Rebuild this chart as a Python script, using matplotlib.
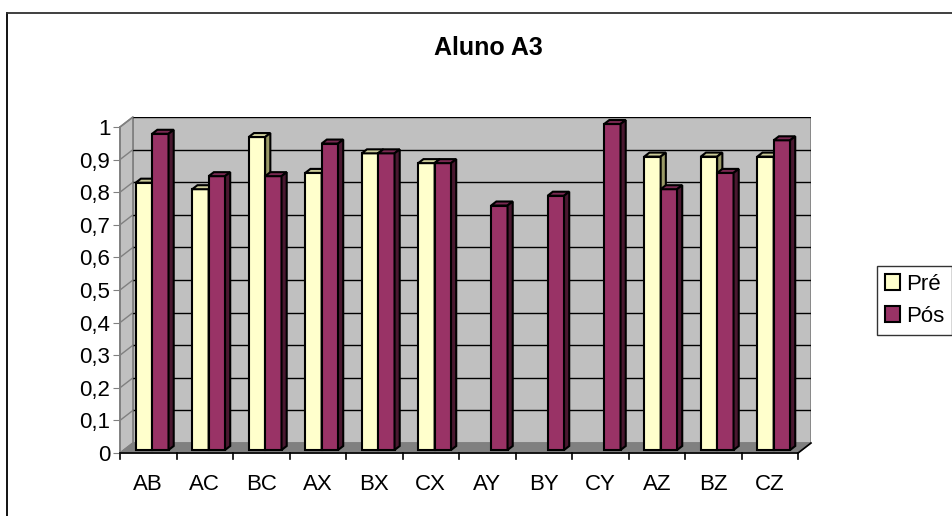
import numpy as np
import matplotlib.pyplot as plt
from matplotlib.patches import Polygon, Patch
from matplotlib.lines import Line2D

plt.rcParams['font.family'] = ['Liberation Sans', 'DejaVu Sans']

categorias = ["AB", "AC", "BC", "AX", "BX", "CX", "AY", "BY", "CY", "AZ", "BZ", "CZ"]
pre = [0.82, 0.80, 0.96, 0.85, 0.91, 0.88, None, None, None, 0.90, 0.90, 0.90]
pos = [0.97, 0.84, 0.84, 0.94, 0.91, 0.88, 0.75, 0.78, 1.0, 0.80, 0.85, 0.95]
yticks = [0, 0.1, 0.2, 0.3, 0.4, 0.5, 0.6, 0.7, 0.8, 0.9, 1.0]

cores = {
    "Pré": ("#FFFFCC", "#CCCC99", "#999966"),
    "Pós": ("#993366", "#7A2952", "#4A1830"),
}

fig = plt.figure(figsize=(9.52, 5.16), dpi=100)
W, H = 952, 516

# area do grafico (borda)
fig.add_artist(Line2D([7 / W, 7 / W], [0, 1 - 13 / H], color="black", lw=1.3))
fig.add_artist(Line2D([7 / W, 1], [1 - 13 / H, 1 - 13 / H], color="#303030", lw=1.3))

n = len(categorias)
xmin, xmax = -0.5, n - 0.5
px_cat = (800 - 120) / n
dx = 13 / px_cat          # profundidade da parede em unidades de categoria
dy = 10 / 326             # profundidade em unidades de valor

left_px, right_px = 120, 811
bot_px, top_px = 453, 117
ax = fig.add_axes([left_px / W, 1 - bot_px / H, (right_px - left_px) / W, (bot_px - top_px) / H])
ax.set_xlim(xmin, xmax + dx)
ax.set_ylim(0, 1 + dy)
ax.patch.set_visible(False)

# paredes
ax.add_patch(Polygon([(xmin + dx, dy), (xmax + dx, dy), (xmax + dx, 1 + dy), (xmin + dx, 1 + dy)],
                     closed=True, facecolor="#C0C0C0", edgecolor="#808080", lw=1.2, zorder=0))
ax.add_patch(Polygon([(xmin, 0), (xmin + dx, dy), (xmin + dx, 1 + dy), (xmin, 1)],
                     closed=True, facecolor="#C0C0C0", edgecolor="#808080", lw=1.2, zorder=0, clip_on=False))
ax.add_patch(Polygon([(xmin, 0), (xmax, 0), (xmax + dx, dy), (xmin + dx, dy)],
                     closed=True, facecolor="#808080", edgecolor="#808080", lw=1, zorder=0.5, clip_on=False))

for v in yticks[1:]:
    ax.plot([xmin + dx, xmax + dx], [v + dy, v + dy], color="black", lw=1, zorder=0.3)
    ax.plot([xmin, xmin + dx], [v, v + dy], color="#808080", lw=1, zorder=0.3, clip_on=False)

# barras 3D
x = np.arange(n)
bw = 0.29
d0 = 0.3
bdx, bdy = 0.4 * dx, 0.4 * dy


def barras(valores, offset, nome):
    frente, topo, lado = cores[nome]
    for i, v in enumerate(valores):
        if v is None:
            continue
        x0 = x[i] + offset + d0 * dx
        y0 = d0 * dy
        ax.bar(x0, v, width=bw, bottom=y0, align="edge", color=frente,
               edgecolor="black", lw=1.5, zorder=2 + i * 0.01)
        yt = y0 + v
        ax.add_patch(Polygon([(x0, yt), (x0 + bw, yt), (x0 + bw + bdx, yt + bdy), (x0 + bdx, yt + bdy)],
                             closed=True, facecolor=topo, edgecolor="black", lw=1.5, zorder=2 + i * 0.01))
        ax.add_patch(Polygon([(x0 + bw, y0), (x0 + bw + bdx, y0 + bdy), (x0 + bw + bdx, yt + bdy), (x0 + bw, yt)],
                             closed=True, facecolor=lado, edgecolor="black", lw=1.5, zorder=2 + i * 0.01))


barras(pre, -bw, "Pré")
barras(pos, 0, "Pós")

# eixos
for s in ["top", "right", "bottom"]:
    ax.spines[s].set_visible(False)
ax.spines["left"].set_bounds(0, 1)
ax.spines["left"].set_color("#808080")
ax.spines["left"].set_linewidth(1.2)
ax.set_yticks(yticks)
ax.set_yticklabels([("%g" % v).replace(".", ",") for v in yticks], fontsize=16)
ax.tick_params(axis="y", direction="out", length=5, color="#808080", pad=2)

ax.plot([xmin, xmax], [0, 0], color="black", lw=1.2, zorder=3, clip_on=False)
ax.plot([xmax, xmax + dx], [0, dy], color="black", lw=1.2, zorder=3, clip_on=False)
for b in np.arange(xmin, xmax + 0.01, 1):
    ax.plot([b, b], [0, -0.018], color="black", lw=1.2, clip_on=False)
ax.set_xticks(x)
ax.set_xticklabels(categorias, fontsize=16)
ax.tick_params(axis="x", length=0, pad=15)

fig.text(488 / W, 1 - 48 / H, "Aluno A3", ha="center", va="center", fontsize=18, fontweight="bold")

handles = [Patch(facecolor=cores["Pré"][0], edgecolor="black", lw=1.5, label="Pré"),
           Patch(facecolor=cores["Pós"][0], edgecolor="black", lw=1.5, label="Pós")]
leg = fig.legend(handles=handles, loc="upper left", bbox_to_anchor=(877 / W, 1 - 266 / H),
                 fontsize=16, frameon=True, fancybox=False, edgecolor="black",
                 handlelength=0.7, handleheight=0.7, handletextpad=0.25,
                 borderpad=0.35, labelspacing=0.5, borderaxespad=0)
leg.get_frame().set_linewidth(1)

fig.savefig("out.png", dpi=100)
